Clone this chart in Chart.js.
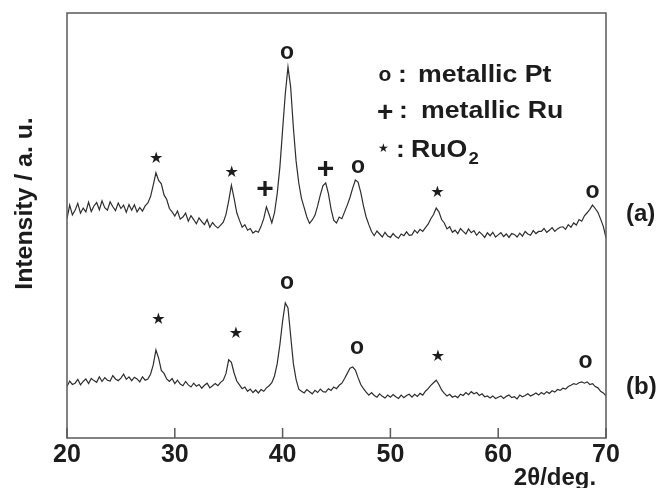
<!DOCTYPE html>
<html>
<head>
<meta charset="utf-8">
<script src="https://cdn.jsdelivr.net/npm/chart.js@4.4.0/dist/chart.umd.min.js"></script>
<style>
  html, body { margin: 0; padding: 0; background: #fff; }
  #wrap { width: 659px; height: 488px; position: relative; }
</style>
</head>
<body>
<div id="wrap"><canvas id="xrd"></canvas></div>
<script>
// XRD patterns, sampled every 0.25 deg from 20 to 70 (2theta)
const angleStart = 20;
const angleStep = 0.25;

// pattern (a) (arbitrary units, shifted up)
const intensityA = [
  51.6, 54.8, 52.5, 53.6, 55.2, 52.9, 54.1, 53.2,
  55.5, 53.3, 54.6, 55.4, 53.7, 55.8, 54.2, 53.6,
  55.6, 54.4, 53.5, 55.3, 54.0, 54.8, 53.1, 54.9,
  53.6, 54.9, 53.2, 54.2, 53.4, 54.6, 55.3, 56.8,
  59.5, 62.4, 60.6, 59.8, 57.2, 56.1, 54.0, 53.2,
  52.2, 53.4, 51.5, 52.0, 52.9, 51.0, 52.3, 51.4,
  50.4, 51.8, 50.9, 50.2, 51.4, 49.6, 50.7, 49.9,
  49.4, 50.1, 50.8, 52.6, 55.8, 59.5, 56.4, 53.0,
  51.2, 49.6, 50.2, 48.9, 49.3, 48.2, 48.7, 48.4,
  49.8, 51.6, 54.4, 52.6, 50.6, 53.0, 57.5, 63.8,
  72.5, 81.0, 87.3, 82.5, 73.0, 65.2, 60.0, 56.4,
  54.2, 52.0, 50.5, 51.3, 52.4, 54.6, 57.2, 59.4,
  60.0, 57.5, 53.8, 51.2, 50.6, 52.0, 51.6, 53.2,
  54.8, 56.6, 58.8, 60.7, 60.2, 57.8, 54.6, 52.0,
  50.2, 48.6, 47.6, 48.7, 48.0, 47.3, 48.4, 47.5,
  47.2, 48.1, 47.4, 47.0, 48.0, 47.6, 48.5, 47.7,
  47.8, 48.9, 48.2, 49.1, 48.6, 49.5, 50.3, 51.6,
  52.6, 54.1, 53.2, 51.4, 50.6, 49.2, 49.7, 48.4,
  48.9, 48.1, 49.3, 48.6, 48.0, 49.2, 48.3, 48.8,
  47.7, 48.5, 47.9, 47.2, 48.3, 47.6, 48.4, 47.3,
  47.8, 48.3, 47.4, 48.0, 47.2, 48.1, 47.9, 47.3,
  48.2, 47.5, 48.6, 48.0, 47.7, 48.8, 48.1, 48.6,
  48.6, 49.3, 48.4, 48.9, 49.5, 48.6, 49.2, 49.6,
  49.7, 49.1, 50.2, 49.6, 50.6, 50.1, 51.4, 51.0,
  52.3, 53.0, 53.8, 54.8, 54.0, 53.1, 51.5, 49.8,
  47.1
];

// pattern (b)
const intensityB = [
  12.1, 13.4, 12.6, 12.9, 13.8, 12.5, 13.3, 13.9,
  12.8, 14.0, 13.5, 13.1, 14.4, 13.3, 14.2, 13.6,
  13.4, 14.7, 13.9, 13.5, 14.1, 15.0, 13.8, 14.4,
  13.5, 14.3, 13.9, 13.2, 14.4, 13.6, 13.9, 15.0,
  17.2, 20.7, 18.8, 15.9, 15.2, 13.9, 13.3, 14.0,
  12.8, 13.6, 12.7, 12.3, 13.3, 12.5, 12.0, 12.9,
  12.2, 12.6, 11.7, 12.4, 12.9, 11.8, 12.3, 12.8,
  12.3, 13.1, 13.6, 15.2, 18.4, 17.8, 15.3, 13.4,
  12.5, 11.6, 12.0, 11.0, 11.5, 10.7, 11.3, 10.6,
  11.4, 11.0, 11.8, 12.3, 13.0, 14.6, 17.5, 22.0,
  27.5, 31.8, 30.6, 24.0, 17.5, 13.8, 11.5, 11.0,
  10.6, 11.4, 10.9, 10.4, 11.2, 10.7, 11.5, 10.9,
  10.8, 11.6, 11.2, 12.0, 11.6, 12.4, 12.9, 14.0,
  15.2, 16.4, 16.7, 16.0, 14.2, 12.6, 11.6, 10.8,
  10.1, 10.7, 10.0, 9.6, 10.4, 9.8, 9.4, 10.1,
  9.6, 10.2, 9.7, 9.3, 10.1, 9.5, 10.0, 10.3,
  9.6, 10.3, 9.8, 10.5, 10.1, 11.0, 11.6, 12.4,
  13.0, 13.6, 12.6, 11.3, 10.5, 9.9, 10.3, 9.6,
  9.9, 9.5, 10.3, 10.0, 10.7, 10.2, 10.9, 10.4,
  10.7, 10.0, 10.4, 9.7, 9.9, 9.4, 9.9, 9.3,
  9.6, 9.9, 9.3, 9.8, 10.1, 9.5, 9.7, 9.2,
  10.1, 9.7, 10.0, 10.4, 9.9, 10.2, 10.6, 10.1,
  10.7, 10.3, 10.9, 10.5, 11.1, 10.8, 11.4, 11.2,
  11.7, 11.5, 12.1, 12.4, 12.8, 12.6, 13.0, 13.2,
  12.9, 13.2, 12.6, 12.8, 12.1, 11.8, 11.0, 10.6,
  9.9
];

const xTicks = [20, 30, 40, 50, 60, 70];

// peak markers (position in data units)
const markerAngles  = [28.3, 35.3, 38.4, 40.4, 44.0, 47.0, 54.4, 68.75, 28.5, 35.7, 40.4, 46.9, 54.45, 68.1];
const markerHeights = [66.1, 62.6, 58.8, 90.6, 63.5, 64.0, 58.1, 57.9, 28.2, 24.9, 36.7, 21.4, 19.5, 17.9];
const markerSymbols = ['★', '★', '+', 'o', '+', 'o', '★', 'o', '★', '★', 'o', 'o', '★', 'o'];

const legendSymbols = ['o', '+', '★'];
const legendTexts = ['metallic Pt', 'metallic Ru', 'RuO'];

const seriesNames = ['(a)', '(b)'];
const FONT = '"Liberation Sans", Arial, sans-serif';
const INK = '#1c1c1c';

function toPoints(vals) {
  return vals.map((v, i) => ({ x: angleStart + i * angleStep, y: v }));
}

// draw text centred on (x, y) using its real ink box
function inkCentered(ctx, txt, x, y) {
  const m = ctx.measureText(txt);
  const w = m.actualBoundingBoxRight + m.actualBoundingBoxLeft;
  const h = m.actualBoundingBoxAscent + m.actualBoundingBoxDescent;
  ctx.fillText(txt, x - w / 2 + m.actualBoundingBoxLeft, y + h / 2 - m.actualBoundingBoxDescent);
}

function symbolFont(s) {
  if (s === '+') return 'bold 30px ' + FONT;
  if (s === '★') return '16px "DejaVu Sans"';
  return 'bold 23px ' + FONT;
}

const overlay = {
  id: 'overlay',
  afterDraw(chart) {
    const { ctx, chartArea: a, scales: { x, y } } = chart;
    ctx.save();

    // frame + inward ticks
    ctx.strokeStyle = '#5a5a5a';
    ctx.lineWidth = 1.5;
    ctx.strokeRect(a.left, a.top, a.right - a.left, a.bottom - a.top);
    ctx.beginPath();
    xTicks.forEach(t => {
      const px = x.getPixelForValue(t);
      ctx.moveTo(px, a.bottom);
      ctx.lineTo(px, a.bottom - 10);
    });
    ctx.stroke();

    ctx.fillStyle = INK;

    // peak markers
    markerAngles.forEach((ang, i) => {
      ctx.font = symbolFont(markerSymbols[i]);
      inkCentered(ctx, markerSymbols[i], x.getPixelForValue(ang), y.getPixelForValue(markerHeights[i]));
    });

    // legend (text in the original is a bit stretched sideways)
    const rowY = [82, 118, 157];
    legendSymbols.forEach((s, i) => {
      ctx.font = s === '+' ? 'bold 28px ' + FONT : s === '★' ? '12px "DejaVu Sans"' : 'bold 21px ' + FONT;
      const cy = s === '★' ? rowY[i] - 9 : rowY[i] - 7;
      inkCentered(ctx, s, [384.5, 385.5, 383][i], cy);
      ctx.save();
      ctx.font = 'bold 23px ' + FONT;
      ctx.textBaseline = 'alphabetic';
      ctx.textAlign = 'left';
      const colonX = [398, 399, 396][i];
      const textX = [418, 421, 411][i];
      ctx.translate(colonX, rowY[i]);
      ctx.scale(1.15, 1);
      ctx.fillText(':', 0, 0);
      ctx.restore();
      ctx.save();
      ctx.font = 'bold 23px ' + FONT;
      ctx.translate(textX, rowY[i]);
      ctx.scale(1.16, 1);
      ctx.fillText(legendTexts[i], 0, 0);
      if (i === 2) {
        const w = ctx.measureText(legendTexts[i]).width;
        ctx.font = 'bold 16px ' + FONT;
        ctx.fillText('2', w + 1, 7);
      }
      ctx.restore();
    });

    // series names on the right
    ctx.font = 'bold 24px ' + FONT;
    ctx.textAlign = 'left';
    ctx.textBaseline = 'alphabetic';
    ctx.fillText(seriesNames[0], a.right + 20, 221);
    ctx.fillText(seriesNames[1], a.right + 20, 394);

    // axis titles
    ctx.textAlign = 'center';
    ctx.fillText('2θ/deg.', 555, 485);
    ctx.save();
    ctx.translate(32, 203.5);
    ctx.rotate(-Math.PI / 2);
    ctx.scale(1.08, 1);
    ctx.font = 'bold 23px ' + FONT;
    ctx.fillText('Intensity / a. u.', 0, 0);
    ctx.restore();

    ctx.restore();
  }
};

new Chart(document.getElementById('xrd'), {
  type: 'line',
  data: {
    datasets: [
      { label: '(a)', data: toPoints(intensityA) },
      { label: '(b)', data: toPoints(intensityB) }
    ]
  },
  options: {
    responsive: true,
    maintainAspectRatio: false,
    animation: false,
    layout: { padding: { left: 67, right: 53, top: 13, bottom: 0 } },
    elements: {
      line: { borderColor: '#2e2e2e', borderWidth: 1.2, tension: 0 },
      point: { radius: 0 }
    },
    plugins: { legend: { display: false }, tooltip: { enabled: false } },
    scales: {
      x: {
        type: 'linear',
        min: 20,
        max: 70,
        afterBuildTicks: s => { s.ticks = xTicks.map(v => ({ value: v })); },
        ticks: { color: INK, padding: 2, font: { family: FONT, weight: 'bold', size: 25 } },
        grid: { display: false, drawTicks: false },
        border: { display: false },
        afterFit: s => { s.height = 50; }
      },
      y: { display: false, min: 0, max: 100 }
    }
  },
  plugins: [overlay]
});
</script>
</body>
</html>
